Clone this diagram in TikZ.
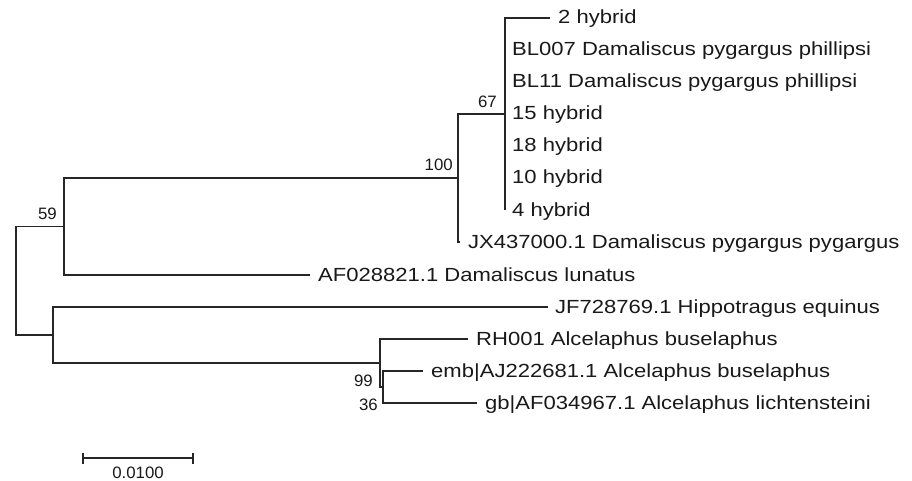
\documentclass[tikz,border=0pt]{standalone}
\usepackage{fontspec}
\setmainfont{Liberation Sans}[FakeStretch=1.16]
\newfontfamily\bsfont{Liberation Sans}[FakeStretch=1.02]
\begin{document}
\begin{tikzpicture}[x=1pt,y=-1pt,
  branch/.style={line width=1.3pt, draw=black!85},
  leaf/.style={anchor=base west, inner sep=0pt, text=black!90, font=\fontsize{19}{19}\selectfont},
  boot/.style={anchor=base east, inner sep=0pt, text=black!90, font=\bsfont\fontsize{16.5}{16.5}\selectfont}]
\useasboundingbox (0,0) rectangle (912,481);
% internal nodes
\coordinate (r) at (16,280.75);
\coordinate (n59) at (64,226.5);
\coordinate (nlow) at (53,335);
\coordinate (n100) at (458,178);
\coordinate (n67) at (505,114);
\coordinate (n99) at (380,363);
\coordinate (n36) at (383,387);
% leaf tips
\coordinate (t2) at (550,18);
\coordinate (tBLa) at (505,50);
\coordinate (tBLb) at (505,82);
\coordinate (t15) at (505,114);
\coordinate (t18) at (505,146);
\coordinate (t10) at (505,178);
\coordinate (t4) at (505,210);
\coordinate (tJX) at (460,242);
\coordinate (tAF) at (310,275);
\coordinate (tJF) at (548,307);
\coordinate (tRH) at (468,339);
\coordinate (tEmb) at (423,371);
\coordinate (tGb) at (477,403);
% branches
\draw[branch] (r) |- (n59);
\draw[branch] (r) |- (nlow);
\draw[branch] (n59) |- (n100);
\draw[branch] (n59) |- (tAF);
\draw[branch] (n100) |- (n67);
\draw[branch] (n100) |- (tJX);
\draw[branch] (n67) |- (t2);
\draw[branch] (n67) |- (t4);
\draw[branch] (nlow) |- (tJF);
\draw[branch] (nlow) |- (n99);
\draw[branch] (n99) |- (tRH);
\draw[branch] (n99) |- (n36);
\draw[branch] (n36) |- (tEmb);
\draw[branch] (n36) |- (tGb);
% leaf labels
\node[leaf] (L2) at ([xshift=8pt,yshift=-6pt]t2) {2 hybrid};
\node[leaf] (LBLa) at ([xshift=7pt,yshift=-6pt]tBLa) {BL007 Damaliscus pygargus phillipsi};
\node[leaf] (LBLb) at ([xshift=7pt,yshift=-6pt]tBLb) {BL11 Damaliscus pygargus phillipsi};
\node[leaf] (L15) at ([xshift=7pt,yshift=-6pt]t15) {15 hybrid};
\node[leaf] (L18) at ([xshift=7pt,yshift=-6pt]t18) {18 hybrid};
\node[leaf] (L10) at ([xshift=7pt,yshift=-6pt]t10) {10 hybrid};
\node[leaf] (L4) at ([xshift=7pt,yshift=-6pt]t4) {4 hybrid};
\node[leaf] (LJX) at ([xshift=8pt,yshift=-6pt]tJX) {JX437000.1 Damaliscus pygargus pygargus};
\node[leaf] (LAF) at ([xshift=8pt,yshift=-6pt]tAF) {AF028821.1 Damaliscus lunatus};
\node[leaf] (LJF) at ([xshift=7pt,yshift=-6pt]tJF) {JF728769.1 Hippotragus equinus};
\node[leaf] (LRH) at ([xshift=8pt,yshift=-6pt]tRH) {RH001 Alcelaphus buselaphus};
\node[leaf] (LEmb) at ([xshift=8pt,yshift=-6pt]tEmb) {emb|AJ222681.1 Alcelaphus buselaphus};
\node[leaf] (LGb) at ([xshift=8pt,yshift=-6pt]tGb) {gb|AF034967.1 Alcelaphus lichtensteini};
% bootstrap values
\node[boot] (b100) at ([xshift=-5pt,yshift=7pt]n100) {100};
\node[boot] (b67) at ([xshift=-8pt,yshift=6pt]n67) {67};
\node[boot] (b59) at ([xshift=-7pt,yshift=7.5pt]n59) {59};
\node[boot] (b99) at ([xshift=-7pt,yshift=-23pt]n99) {99};
\node[boot] (b36) at ([xshift=-5pt,yshift=-23pt]n36) {36};
% scale bar
\coordinate (s0) at (83,458);
\coordinate (s1) at (193,458);
\draw[branch] (s0) -- (s1);
\draw[branch] ([yshift=5.5pt]s0) -- ([yshift=-5.5pt]s0);
\draw[branch] ([yshift=5.5pt]s1) -- ([yshift=-5.5pt]s1);
\node[boot, anchor=base] (sl) at (138,478) {0.0100};
\end{tikzpicture}
\end{document}
